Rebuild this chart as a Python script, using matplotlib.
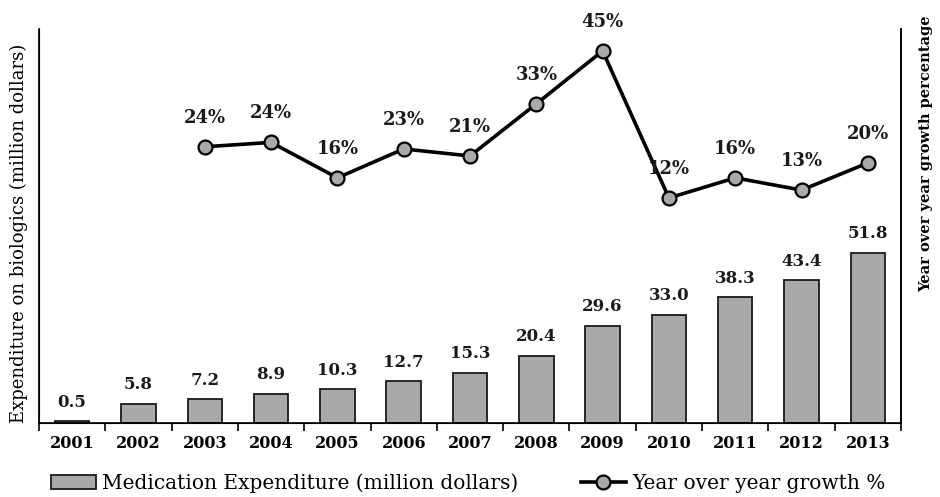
import matplotlib
matplotlib.use("Agg")
import matplotlib.pyplot as plt
import numpy as np
from matplotlib.ticker import FixedLocator, NullFormatter

years = ["2001", "2002", "2003", "2004", "2005", "2006", "2007",
         "2008", "2009", "2010", "2011", "2012", "2013"]
expenditure = [0.5, 5.8, 7.2, 8.9, 10.3, 12.7, 15.3, 20.4, 29.6, 33.0, 38.3, 43.4, 51.8]
growth_years = ["2003", "2004", "2005", "2006", "2007", "2008",
                "2009", "2010", "2011", "2012", "2013"]
growth = [23.1, 24.1, 16.0, 22.6, 21.0, 32.9, 45.0, 11.4, 16.0, 13.2, 19.4]
growth_labels = ["24%", "24%", "16%", "23%", "21%", "33%", "45%", "12%", "16%", "13%", "20%"]

SERIF = "DejaVu Serif"
BAR_COLOR = "#a9a9a9"

fig = plt.figure(figsize=(9.4, 4.97), dpi=100)
ax = fig.add_axes([0.0415, 0.149, 0.917, 0.7926])
x = np.arange(len(years))
ax.bar(x, expenditure, width=0.52, color=BAR_COLOR, edgecolor="#1a1a1a",
       linewidth=1.3, zorder=2, label="Medication Expenditure (million dollars)")
for xi, v in zip(x, expenditure):
    ax.text(xi, v + 3.2, f"{v:.1f}", ha="center", va="bottom", fontsize=12,
            fontweight="bold", family=SERIF, color="#1a1a1a")
ax.set_xlim(-0.5, len(years) - 0.5)
ax.set_ylim(0, 120)
ax.set_yticks([])
ax.set_xticks(x)
ax.set_xticklabels(years, fontsize=11.5, fontweight="bold", family=SERIF)
ax.tick_params(axis="x", which="major", length=0, pad=9)
ax.xaxis.set_minor_locator(FixedLocator(np.arange(-0.5, len(years), 1.0)))
ax.xaxis.set_minor_formatter(NullFormatter())
ax.tick_params(axis="x", which="minor", length=6, width=1.2, direction="out")
ax.spines["top"].set_visible(False)
for s in ["left", "right", "bottom"]:
    ax.spines[s].set_linewidth(1.2)
ax.set_ylabel("Expenditure on biologics (million dollars)", fontsize=13,
              family=SERIF)
ax.yaxis.set_label_coords(-0.0128, 0.482)

ax2 = ax.twinx()
gx = [years.index(y) for y in growth_years]
ax2.plot(gx, growth, color="black", linewidth=2.6, marker="o", markersize=10,
         markerfacecolor=BAR_COLOR, markeredgecolor="black", markeredgewidth=1.6,
         zorder=3, label="Year over year growth %")
for xi, v, lab in zip(gx, growth, growth_labels):
    ax2.text(xi, v + 4.6, lab, ha="center", va="bottom", fontsize=13,
             fontweight="bold", family=SERIF, color="#1a1a1a")
ax2.set_ylim(-40, 50)
ax2.set_yticks([])
ax2.spines["top"].set_visible(False)
ax2.spines["right"].set_linewidth(1.2)
ax2.set_ylabel("Year over year growth percentage", fontsize=10.5, family=SERIF,
               fontweight="bold")
ax2.yaxis.set_label_coords(1.021, 0.683)

h1, l1 = ax.get_legend_handles_labels()
h2, l2 = ax2.get_legend_handles_labels()
fig.legend(h1 + h2, l1 + l2, loc="center", bbox_to_anchor=(0.498, 0.028), ncol=2,
           frameon=False, prop={"family": SERIF, "size": 14.5}, handlelength=2.25,
           handletextpad=0.3, columnspacing=3.1, borderaxespad=0)

fig.savefig("out.png", dpi=100)
